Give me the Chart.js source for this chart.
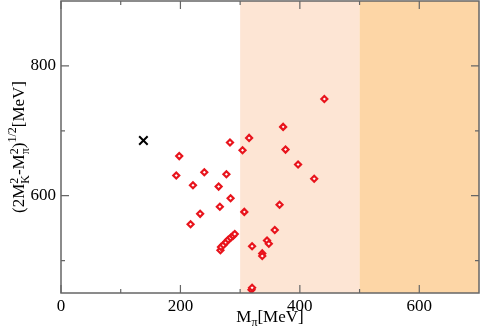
<!DOCTYPE html>
<html>
<head>
<meta charset="utf-8">
<script src="https://cdn.jsdelivr.net/npm/chart.js@4/dist/chart.umd.min.js"></script>
<style>
  html, body { margin: 0; padding: 0; background: #fff; }
  #wrap { width: 480px; height: 336px; }
</style>
</head>
<body>
<div id="wrap"><canvas id="c" width="480" height="336"></canvas></div>
<script>
// Lattice ensembles: pion mass vs. (2 M_K^2 - M_pi^2)^(1/2), in MeV
const ensembleMpi = [441, 372, 315, 283, 304, 376, 198, 397, 193, 240, 277, 424, 221, 264, 284, 366, 266, 307, 233, 217, 358, 345, 348, 320, 337, 337, 319, 320,
                     267, 268, 272, 276, 280, 284, 288, 291];
const ensembleMs  = [749, 706, 689, 682, 670, 671, 661, 648, 631, 636, 633, 626, 616, 614, 596, 586, 583, 575, 572, 556, 547, 531, 526, 522, 511, 507, 455, 458,
                     516, 521, 524, 528, 532, 535, 538, 541];
// physical point
const physMpi = [138];
const physMs  = [685];

// axis ticks and shaded pion-mass bands
const xMajorTicks = [0, 200, 400, 600];
const xMinorTicks = [100, 300, 500];
const yMajorTicks = [600, 800];
const yMinorTicks = [500, 700];
const bandEdges = [300, 500, 700];
const bandColors = ['#fde5d4', '#fdd6a6'];

const ensembles = ensembleMpi.map((x, i) => ({ x: x, y: ensembleMs[i] }));
const physical = physMpi.map((x, i) => ({ x: x, y: physMs[i] }));

const SERIF = '"Liberation Serif", "DejaVu Serif", serif';

const decor = {
  id: 'decor',
  beforeDatasetsDraw(chart) {
    const { ctx, chartArea: a, scales: { x, y } } = chart;
    ctx.save();
    for (let i = 0; i < bandColors.length; i++) {
      const x0 = x.getPixelForValue(bandEdges[i]);
      const x1 = x.getPixelForValue(bandEdges[i + 1]);
      ctx.fillStyle = bandColors[i];
      ctx.fillRect(x0, a.top, x1 - x0, a.bottom - a.top);
    }
    ctx.restore();
  },
  afterDatasetsDraw(chart) {
    const { ctx, chartArea: a, scales: { x, y } } = chart;
    ctx.save();
    ctx.strokeStyle = '#666';
    ctx.lineWidth = 1.5;
    ctx.strokeRect(a.left, a.top, a.right - a.left, a.bottom - a.top);
    ctx.lineWidth = 1.2;
    const tick = (vals, len) => {
      ctx.beginPath();
      vals.forEach(v => {
        const px = x.getPixelForValue(v);
        ctx.moveTo(px, a.bottom); ctx.lineTo(px, a.bottom - len);
        ctx.moveTo(px, a.top); ctx.lineTo(px, a.top + len);
      });
      ctx.stroke();
    };
    const ytick = (vals, len) => {
      ctx.beginPath();
      vals.forEach(v => {
        const py = y.getPixelForValue(v);
        ctx.moveTo(a.left, py); ctx.lineTo(a.left + len, py);
        ctx.moveTo(a.right, py); ctx.lineTo(a.right - len, py);
      });
      ctx.stroke();
    };
    tick(xMajorTicks, 8); tick(xMinorTicks, 4);
    ytick(yMajorTicks, 8); ytick(yMinorTicks, 4);

    // x-axis title: M_pi[MeV]
    ctx.fillStyle = '#000';
    ctx.textBaseline = 'alphabetic';
    const cx = (a.left + a.right) / 2;
    const base = 322;
    const big = '17px ' + SERIF, small = '12px ' + SERIF;
    ctx.font = big; const wM = ctx.measureText('M').width;
    ctx.font = small; const wPi = ctx.measureText('π').width;
    ctx.font = big; const wR = ctx.measureText('[MeV]').width;
    let sx = cx - (wM + wPi + wR) / 2;
    ctx.textAlign = 'left';
    ctx.font = big; ctx.fillText('M', sx, base); sx += wM;
    ctx.font = small; ctx.fillText('π', sx, base + 4); sx += wPi;
    ctx.font = big; ctx.fillText('[MeV]', sx, base);

    // y-axis title: (2M_K^2 - M_pi^2)^{1/2}[MeV]
    ctx.translate(24, (a.top + a.bottom) / 2);
    ctx.rotate(-Math.PI / 2);
    const parts = [
      ['(2M', big, 0], ['2', small, -6, 'K', 5], ['-M', big, 0], ['2', small, -6, 'π', 5],
      [')', big, 0], ['1/2', small, -8], ['[MeV]', big, 0]
    ];
    let total = 0;
    parts.forEach(p => {
      ctx.font = p[1];
      let w = ctx.measureText(p[0]).width;
      if (p[3]) w = Math.max(w, ctx.measureText(p[3]).width);
      p.w = w; total += w;
    });
    let px = -total / 2;
    parts.forEach(p => {
      ctx.font = p[1];
      ctx.fillText(p[0], px, p[2]);
      if (p[3]) ctx.fillText(p[3], px, p[4]);
      px += p.w;
    });
    ctx.restore();
  }
};

const noPad = s => { s.paddingTop = 0; s.paddingBottom = 0; s.paddingLeft = 0; s.paddingRight = 0; };

new Chart(document.getElementById('c'), {
  type: 'scatter',
  data: {
    datasets: [
      {
        data: ensembles,
        pointStyle: 'rectRot',
        pointRadius: 3,
        pointBorderWidth: 2.2,
        borderColor: '#e8141c',
        backgroundColor: '#ffffff'
      },
      {
        data: physical,
        pointStyle: 'crossRot',
        pointRadius: 6,
        pointBorderWidth: 2,
        borderColor: '#000',
        backgroundColor: '#000'
      }
    ]
  },
  plugins: [decor],
  options: {
    responsive: false,
    animation: false,
    events: [],
    layout: { autoPadding: false, padding: { top: 1, right: 1, left: 0, bottom: 0 } },
    plugins: { legend: { display: false }, tooltip: { enabled: false } },
    scales: {
      x: {
        type: 'linear', min: 0, max: 700,
        afterBuildTicks: s => { s.ticks = xMajorTicks.map(v => ({ value: v })); },
        afterFit: s => { s.height = 43; noPad(s); },
        grid: { display: false, drawTicks: false },
        border: { display: false },
        ticks: { color: '#000', font: { family: SERIF, size: 17 }, padding: 3, maxRotation: 0 }
      },
      y: {
        type: 'linear', min: 450, max: 900,
        afterBuildTicks: s => { s.ticks = yMajorTicks.map(v => ({ value: v })); },
        afterFit: s => { s.width = 61; noPad(s); },
        grid: { display: false, drawTicks: false },
        border: { display: false },
        ticks: { color: '#000', font: { family: SERIF, size: 17 }, padding: 5 }
      }
    }
  }
});
</script>
</body>
</html>
